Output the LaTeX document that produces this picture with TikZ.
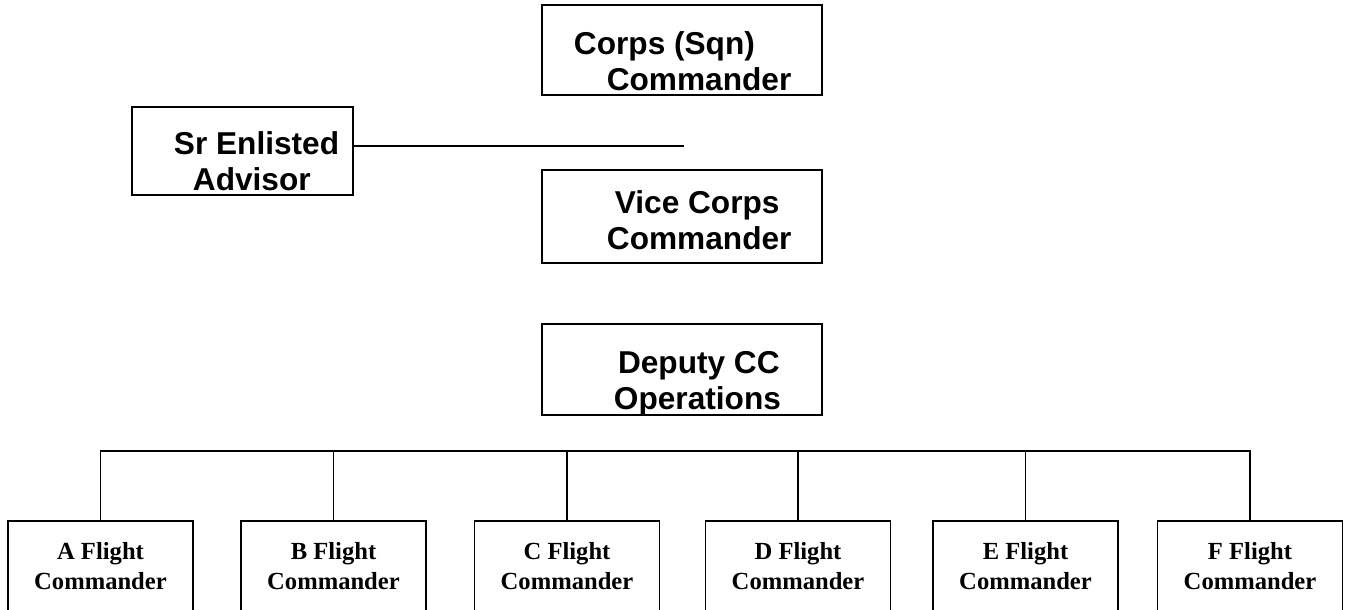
\documentclass[tikz,border=0pt]{standalone}
\usepackage{fontspec}
\setmainfont{Liberation Serif}
\newfontfamily\arialfont{Liberation Sans}
\usepackage{tikz}
\usetikzlibrary{positioning}

\begin{document}
\begin{tikzpicture}[x=0.02cm,y=-0.02cm,line width=1.1pt,
unit box/.style={draw,rectangle,minimum width=5.6cm,inner sep=0pt},
unit text/.style={anchor=west,align=left,inner sep=0pt,font={\fontsize{18}{20.5}\selectfont\arialfont\bfseries}},
flight box/.style={draw,rectangle,minimum width=3.7cm,minimum height=1.8cm,inner sep=0pt,align=center,font={\fontsize{14}{17}\selectfont\bfseries}}
]
\useasboundingbox (0,0) rectangle (1349,609);

% command chain
\node[unit box,minimum height=1.8cm] (corps) at (682,50) {};
\node[unit text] (corps-t) at (573,61) {Corps (Sqn)\\\hspace*{18.7pt}Commander};
\node[unit box,minimum height=1.86cm] (vice) at (682,216.5) {};
\node[unit text] (vice-t) at (606,220) {\hspace*{4.5pt}Vice Corps\\Commander};
\node[unit box,minimum height=1.82cm] (deputy) at (682,369.5) {};
\node[unit text] (deputy-t) at (613,383.5) {\hspace*{2.3pt}Deputy CC\\Operations};

% advisor
\node[unit box,minimum width=4.42cm,minimum height=1.76cm] (sr) at (242.5,151) {};
\node[unit text] (sr-t) at (173,161) {Sr Enlisted\\\hspace*{10.8pt}Advisor};
\coordinate (link) at (684,146);
\draw (sr.east |- link) -- (link);

% flights
\coordinate (bus) at (0,451);
\foreach \l/\x in {A/100.5,B/333.5,C/567,D/798,E/1025.5,F/1250}
  \node[flight box] (\l) at (\x,566) {\l{} Flight\\Commander};
\draw (A.north) |- (bus -| F.north) -- (F.north);
\foreach \l in {B,C,D,E} \draw (\l.north) -- (\l.north |- bus);

\end{tikzpicture}
\end{document}
